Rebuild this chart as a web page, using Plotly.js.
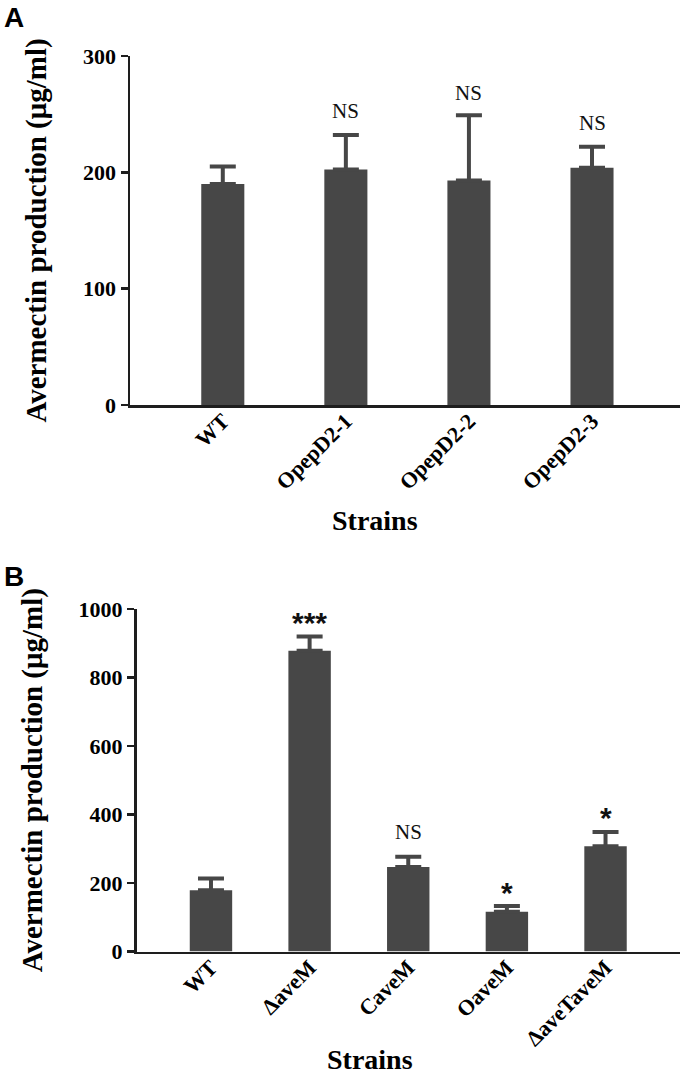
<!DOCTYPE html>
<html>
<head>
<meta charset="utf-8">
<script src="https://cdn.plot.ly/plotly-3.0.1.min.js"></script>
<style>html,body{margin:0;padding:0;background:#fff;}#chart{width:680px;height:1079px;}</style>
</head>
<body>
<div id="chart"></div>
<script>
// Panel A data
const catsA = ['WT', 'OpepD2-1', 'OpepD2-2', 'OpepD2-3'];
const meanA = [190, 202.5, 193, 204];
const errA = [15, 29.5, 56, 18];
const errMinusA = [0, 0, 0, 0];
const sigA = ['', 'NS', 'NS', 'NS'];
const sigYA = [0, 253, 268, 242];

// Panel B data
const catsB = ['WT', 'ΔaveM', 'CaveM', 'OaveM', 'ΔaveTaveM'];
const meanB = [179, 878, 247, 116, 307];
const errB = [34, 42, 30, 17, 42];
const errMinusB = [0, 0, 0, 0, 0];
const sigB = ['', '***', 'NS', '*', '*'];
const sigYB = [0, 962, 349, 172, 392];

const yTitle = 'Avermectin production (μg/ml)';
const xTitle = 'Strains';

const W = 680, H = 1079;
const serif = 'Liberation Serif, Times New Roman, serif';
const sans = 'Liberation Sans, Arial, sans-serif';
const barColor = '#474747';
const axisColor = '#1e1e1e';

const traceA = {
  type: 'bar', x: catsA, y: meanA, xaxis: 'x', yaxis: 'y', width: 0.35,
  marker: {color: barColor, line: {width: 0}},
  error_y: {type: 'data', symmetric: false, array: errA, arrayminus: errMinusA,
            color: barColor, thickness: 4, width: 13},
  hoverinfo: 'none'
};
const traceB = {
  type: 'bar', x: catsB, y: meanB, xaxis: 'x2', yaxis: 'y2', width: 0.43,
  marker: {color: barColor, line: {width: 0}},
  error_y: {type: 'data', symmetric: false, array: errB, arrayminus: errMinusB,
            color: barColor, thickness: 4, width: 13},
  hoverinfo: 'none'
};

function xAxis(domain, range, anchor) {
  return {
    domain: domain, range: range, type: 'category', anchor: anchor,
    showline: true, linecolor: axisColor, linewidth: 2.5,
    ticks: '', tickangle: -45, ticklabelstandoff: -8,
    tickfont: {family: serif, size: 22, color: '#000', weight: 700},
    showgrid: false, zeroline: false, fixedrange: true
  };
}
function yAxis(domain, range, dtick, anchor) {
  return {
    domain: domain, range: range, dtick: dtick, tick0: 0, anchor: anchor,
    showline: true, linecolor: axisColor, linewidth: 2.5,
    ticks: 'outside', ticklen: 7, tickwidth: 2.5, tickcolor: axisColor,
    tickfont: {family: serif, size: 22, color: '#000', weight: 700},
    showgrid: false, zeroline: false, fixedrange: true,
    title: {text: yTitle, standoff: 28, font: {family: serif, size: 29, color: '#000', weight: 700}}
  };
}

const annotations = [];
sigA.forEach((s, i) => {
  if (!s) return;
  annotations.push({xref: 'x', yref: 'y', x: catsA[i], y: sigYA[i], text: s, showarrow: false,
    xanchor: 'center', yanchor: 'middle', font: {family: serif, size: 21, color: '#111'}});
});
sigB.forEach((s, i) => {
  if (!s) return;
  const isStar = s.indexOf('*') >= 0;
  annotations.push({xref: 'x2', yref: 'y2', x: catsB[i], y: sigYB[i], text: s, showarrow: false,
    xanchor: 'center', yanchor: 'middle',
    font: isStar ? {family: sans, size: 30, color: '#111', weight: 700} : {family: serif, size: 21, color: '#111'}});
});
annotations.push({xref: 'paper', yref: 'paper', x: 375 / W, y: 1 - 521 / H, text: xTitle, showarrow: false,
  xanchor: 'center', yanchor: 'middle', font: {family: serif, size: 28, color: '#000', weight: 700}});
annotations.push({xref: 'paper', yref: 'paper', x: 370 / W, y: 1 - 1059 / H, text: xTitle, showarrow: false,
  xanchor: 'center', yanchor: 'middle', font: {family: serif, size: 28, color: '#000', weight: 700}});
annotations.push({xref: 'paper', yref: 'paper', x: 2 / W, y: 1 - 18 / H, text: 'A', showarrow: false,
  xanchor: 'left', yanchor: 'middle', font: {family: sans, size: 28, color: '#000', weight: 700}});
annotations.push({xref: 'paper', yref: 'paper', x: 2 / W, y: 1 - 576 / H, text: 'B', showarrow: false,
  xanchor: 'left', yanchor: 'middle', font: {family: sans, size: 28, color: '#000', weight: 700}});

const layout = {
  width: W, height: H, margin: {l: 0, r: 0, t: 0, b: 0},
  paper_bgcolor: '#fff', plot_bgcolor: '#fff', showlegend: false,
  xaxis: xAxis([130 / W, 1], [-0.754, 3.715], 'y'),
  yaxis: yAxis([1 - 405 / H, 1 - 56 / H], [0, 300], 100, 'x'),
  xaxis2: xAxis([136.5 / W, 1], [-0.755, 4.755], 'y2'),
  yaxis2: yAxis([1 - 951.5 / H, 1 - 609 / H], [0, 1000], 200, 'x2'),
  annotations: annotations
};

Plotly.newPlot('chart', [traceA, traceB], layout, {displayModeBar: false, staticPlot: true});
</script>
</body>
</html>
